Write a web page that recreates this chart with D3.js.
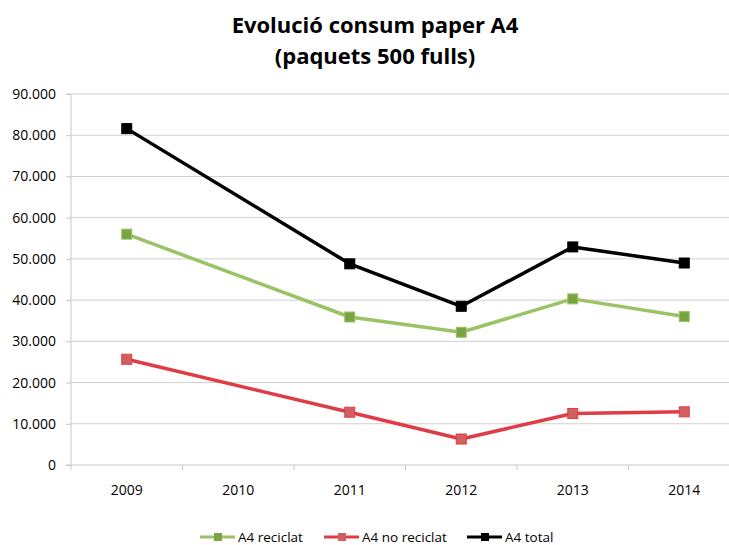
<!DOCTYPE html>
<html><head><meta charset="utf-8">
<script src="https://cdn.jsdelivr.net/npm/d3@7"></script>
<style>body{margin:0;background:#fff}svg{display:block;font-family:"Open Sans","Liberation Sans",sans-serif}</style>
</head><body><svg id="c" width="729" height="545"></svg>
<script>
const categories = ["2009","2010","2011","2012","2013","2014"];
const reciclat   = [56000, null, 35900, 32200, 40300, 36000];
const noReciclat = [25650, null, 12800, 6300, 12500, 12900];
const total      = [81600, null, 48800, 38500, 52900, 49000];
const yTicks = [0,10000,20000,30000,40000,50000,60000,70000,80000,90000];
const seriesNames = ["A4 reciclat","A4 no reciclat","A4 total"];

(function(){
const svg = d3.select("#c");
const W = 729, H = 545;
const pLeft = 71, pRight = 740, pTop = 94, pBottom = 465;
const x = d3.scaleBand().domain(categories).range([pLeft, pRight]);
const y = d3.scaleLinear().domain([0, 90000]).range([pBottom, pTop]);
const fmt = v => v === 0 ? "0" : d3.format(",")(v).replace(/,/g, ".");

// title
const t = svg.append("text").attr("x", 375).attr("text-anchor","middle")
  .attr("font-weight","bold").attr("font-size",22).attr("fill","#000");
t.append("tspan").attr("x",375).attr("y",33).text("Evolució consum paper A4");
t.append("tspan").attr("x",375).attr("y",64).text("(paquets 500 fulls)");

// grid
svg.append("g").selectAll("line").data(yTicks.slice(1)).join("line")
  .attr("x1", pLeft).attr("x2", W).attr("y1", d => y(d)).attr("y2", d => y(d))
  .attr("stroke","#d0d0d0").attr("stroke-width",1);

// y axis
const ya = svg.append("g").attr("transform",`translate(${pLeft},0)`)
  .call(d3.axisLeft(y).tickValues(yTicks).tickFormat(fmt).tickSize(5).tickPadding(10));
ya.attr("font-size",14).attr("font-family",null);
ya.select(".domain").attr("stroke","#c8c8c8").attr("d",`M-5,${y(0)}H0V${y(90000)}H-5`);
ya.selectAll(".tick line").attr("stroke","#c8c8c8");
ya.selectAll("text").attr("fill","#000");

// x axis
const xa = svg.append("g").attr("transform",`translate(0,${pBottom})`)
  .call(d3.axisBottom(x).tickSize(0).tickPadding(20));
xa.attr("font-size",14).attr("font-family",null);
xa.select(".domain").attr("stroke","#c8c8c8").attr("d",`M${pLeft},0H${W}`);
xa.selectAll("text").attr("fill","#000");
const bounds = d3.range(0, categories.length + 1).map(i => pLeft + i * x.bandwidth());
xa.append("g").selectAll("line").data(bounds).join("line")
  .attr("x1", d => d).attr("x2", d => d).attr("y1", 0).attr("y2", 5).attr("stroke","#c8c8c8");

const series = [
  {name: seriesNames[0], values: reciclat, line: "#9bc265", mark: "#7aa443"},
  {name: seriesNames[1], values: noReciclat, line: "#e03c46", mark: "#d0605f"},
  {name: seriesNames[2], values: total, line: "#000000", mark: "#000000"}
];
const cx = c => x(c) + x.bandwidth()/2;
series.forEach(s => {
  const pts = categories.map((c,i)=>({c, v:s.values[i]})).filter(p => p.v != null);
  svg.append("path").datum(pts)
    .attr("d", d3.line().x(p => cx(p.c)).y(p => y(p.v)))
    .attr("fill","none").attr("stroke", s.line).attr("stroke-width",3.5).attr("stroke-linejoin","round");
  svg.append("g").selectAll("rect").data(pts).join("rect")
    .attr("x", p => cx(p.c)-5).attr("y", p => y(p.v)-5).attr("width",10).attr("height",10)
    .attr("fill", s.mark).attr("stroke", s.line).attr("stroke-width",1);
});

// legend
const lx = [200, 324, 467];
series.forEach((s,i) => {
  const g = svg.append("g").attr("transform",`translate(${lx[i]},537)`);
  g.append("line").attr("x1",0).attr("x2",35).attr("y1",0).attr("y2",0).attr("stroke",s.line).attr("stroke-width",3);
  g.append("rect").attr("x",14).attr("y",-4).attr("width",8).attr("height",8).attr("fill",s.mark);
  g.append("text").attr("x",38).attr("y",5).attr("font-size",13.5).text(s.name);
});
})();
</script></body></html>
